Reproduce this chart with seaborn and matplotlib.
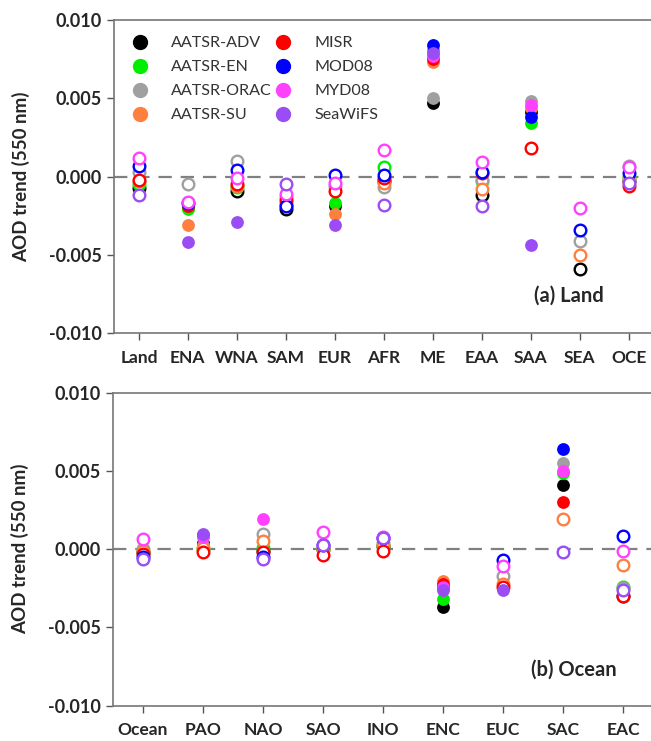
import numpy as np
import pandas as pd
import matplotlib
matplotlib.use('Agg')
import matplotlib.pyplot as plt
from matplotlib.lines import Line2D
import seaborn as sns

sns.set_style('white')
plt.rcParams['font.family'] = ['Lato', 'DejaVu Sans']

nan = np.nan

# dataset names and colours
datasets = ['AATSR-ADV', 'AATSR-EN', 'AATSR-ORAC', 'AATSR-SU',
            'MISR', 'MOD08', 'MYD08', 'SeaWiFS']
colors = ['#000000', '#00ee00', '#a0a0a0', '#ff7f3f',
          '#ff0000', '#0000ff', '#ff40ff', '#9a4cf5']

# (a) land regions
land_regions = ['Land', 'ENA', 'WNA', 'SAM', 'EUR', 'AFR', 'ME', 'EAA', 'SAA', 'SEA', 'OCE']
land_trend = {
    'AATSR-ADV':  [-0.00075, -0.0020, -0.0009, -0.0021, -0.0019, -0.0003, 0.0047, -0.0012, 0.0041, -0.0059, -0.0003],
    'AATSR-EN':   [-0.0005, -0.0021, -0.0007, -0.0018, -0.0017, 0.0006, 0.0081, -0.0003, 0.0034, nan, 0.0],
    'AATSR-ORAC': [0.0003, -0.0005, 0.0010, -0.0013, -0.0006, -0.0007, 0.0050, -0.0002, 0.0048, -0.0041, 0.0007],
    'AATSR-SU':   [-0.0003, -0.0031, -0.0006, -0.0017, -0.0024, -0.0004, 0.0073, -0.0008, 0.0044, -0.0050, -0.0001],
    'MISR':       [-0.0002, -0.0019, -0.0005, -0.0015, -0.0009, -0.0001, 0.0075, 0.0002, 0.0018, nan, -0.0006],
    'MOD08':      [0.0007, -0.0017, 0.0004, -0.0019, 0.0001, 0.0001, 0.0084, 0.0003, 0.0038, -0.0034, 0.0002],
    'MYD08':      [0.0012, -0.0016, -0.0001, -0.0011, -0.0004, 0.0017, 0.0077, 0.0009, 0.0046, -0.0020, 0.0006],
    'SeaWiFS':    [-0.0012, -0.0042, -0.0029, -0.0005, -0.0031, -0.0018, 0.0079, -0.0019, -0.0044, nan, -0.0004],
}
# 1 = significant (filled marker), 0 = not significant (open marker)
land_sig = {
    'AATSR-ADV':  [0, 1, 0, 0, 1, 0, 1, 0, 1, 0, 0],
    'AATSR-EN':   [0, 1, 0, 0, 1, 0, 1, 0, 1, 0, 0],
    'AATSR-ORAC': [0, 0, 0, 0, 0, 0, 1, 0, 1, 0, 0],
    'AATSR-SU':   [0, 1, 0, 0, 1, 0, 1, 0, 1, 0, 0],
    'MISR':       [0, 1, 0, 0, 0, 0, 1, 0, 0, 0, 0],
    'MOD08':      [0, 0, 0, 0, 0, 0, 1, 0, 1, 0, 0],
    'MYD08':      [0, 0, 0, 0, 0, 0, 1, 0, 1, 0, 0],
    'SeaWiFS':    [0, 1, 1, 0, 1, 0, 1, 0, 1, 0, 0],
}

# (b) ocean regions
ocean_regions = ['Ocean', 'PAO', 'NAO', 'SAO', 'INO', 'ENC', 'EUC', 'SAC', 'EAC']
ocean_trend = {
    'AATSR-ADV':  [-0.0002, 0.0004, -0.0001, 0.0, 0.0002, -0.0037, -0.0025, 0.0041, -0.0030],
    'AATSR-EN':   [-0.0002, 0.0, 0.0001, 0.0, 0.0002, -0.0032, -0.0024, 0.0049, -0.0024],
    'AATSR-ORAC': [0.0, 0.0003, 0.0010, 0.0001, 0.0004, -0.0025, -0.0017, 0.0055, -0.0025],
    'AATSR-SU':   [-0.0001, 0.0001, 0.0005, 0.0, 0.0003, -0.0020, -0.0022, 0.0019, -0.0010],
    'MISR':       [-0.0003, -0.0002, -0.0002, -0.0004, -0.0001, -0.0022, -0.0024, 0.0030, -0.0030],
    'MOD08':      [-0.0005, 0.0009, -0.0005, 0.0003, 0.0007, -0.0024, -0.0007, 0.0064, 0.00085],
    'MYD08':      [0.00065, 0.0008, 0.0019, 0.0011, 0.0008, -0.0024, -0.0011, 0.0050, -0.0001],
    'SeaWiFS':    [-0.0006, 0.0010, -0.0006, 0.0003, 0.0007, -0.0026, -0.0026, -0.0002, -0.0026],
}
ocean_sig = {
    'AATSR-ADV':  [0, 1, 0, 0, 0, 1, 1, 1, 0],
    'AATSR-EN':   [0, 0, 0, 0, 0, 1, 1, 1, 0],
    'AATSR-ORAC': [0, 1, 0, 0, 0, 1, 0, 1, 0],
    'AATSR-SU':   [0, 0, 0, 0, 0, 1, 0, 0, 0],
    'MISR':       [0, 0, 0, 0, 0, 1, 0, 1, 0],
    'MOD08':      [0, 1, 0, 0, 0, 1, 0, 1, 0],
    'MYD08':      [0, 1, 1, 0, 0, 1, 0, 1, 0],
    'SeaWiFS':    [0, 1, 0, 0, 0, 1, 1, 0, 0],
}


def to_long(regions, trend, sig):
    rows = []
    for name in datasets:
        for i, reg in enumerate(regions):
            rows.append({'dataset': name, 'pos': i, 'region': reg,
                         'trend': trend[name][i], 'sig': sig[name][i]})
    return pd.DataFrame(rows).dropna()


def draw_panel(ax, regions, df, label, xlim, label_xy):
    ax.axhline(0, color='#808080', lw=1.6, ls=(0, (6, 4)), zorder=1)
    for name, c in zip(datasets, colors):
        sub = df[df['dataset'] == name]
        filled = sub[sub['sig'] == 1]
        hollow = sub[sub['sig'] == 0]
        if len(filled):
            sns.scatterplot(data=filled, x='pos', y='trend', ax=ax, s=85,
                            color=c, edgecolor=c, linewidth=0, zorder=3)
        if len(hollow):
            sns.scatterplot(data=hollow, x='pos', y='trend', ax=ax, s=70,
                            facecolor='white', edgecolor=c, linewidth=1.7, zorder=3)
    ax.set_xlim(*xlim)
    ax.set_ylim(-0.010, 0.010)
    ax.set_xticks(range(len(regions)))
    ax.set_xticklabels(regions, fontweight='bold', fontsize=12.5)
    ax.set_yticks([-0.010, -0.005, 0.0, 0.005, 0.010])
    ax.set_yticklabels(['-0.010', '-0.005', '0.000', '0.005', '0.010'],
                       fontweight='bold', fontsize=13)
    ax.set_xlabel('')
    ax.set_ylabel('AOD trend (550 nm)', fontweight='bold', fontsize=13.5, labelpad=13)
    ax.tick_params(axis='both', direction='out', length=5, width=1, color='#555555',
                   bottom=True, left=True, pad=4)
    ax.tick_params(axis='x', pad=7)
    for side in ['left', 'bottom', 'top']:
        ax.spines[side].set_color('#777777')
        ax.spines[side].set_linewidth(1.2)
    ax.spines['right'].set_visible(False)
    ax.text(label_xy[0], label_xy[1], label, transform=ax.transAxes, ha='right',
            va='center', fontweight='bold', fontsize=14.5)


fig = plt.figure(figsize=(6.51, 7.41), dpi=100)
ax1 = fig.add_axes([0.175, 0.5506, 0.826, 0.4224])
ax2 = fig.add_axes([0.1736, 0.0476, 0.828, 0.4224])

draw_panel(ax1, land_regions, to_long(land_regions, land_trend, land_sig),
           '(a) Land', (-0.51, 10.47), (0.911, 0.118))
draw_panel(ax2, ocean_regions, to_long(ocean_regions, ocean_trend, ocean_sig),
           '(b) Ocean', (-0.5, 8.48), (0.934, 0.114))

# legend: two columns drawn as two legends
handles = [Line2D([], [], marker='o', ls='', color=c, markersize=10) for c in colors]
leg_kw = dict(loc='upper left', frameon=False, fontsize=11.6, handlelength=1.34,
              handletextpad=1.28, labelspacing=0.6, borderaxespad=0, borderpad=0,
              labelcolor='#333333')
leg1 = ax1.legend(handles[:4], datasets[:4], bbox_to_anchor=(0.0283, 0.9486), **leg_kw)
ax1.add_artist(leg1)
ax1.legend(handles[4:], datasets[4:], bbox_to_anchor=(0.2946, 0.9486), **leg_kw)

fig.savefig('out.png', dpi=100)
